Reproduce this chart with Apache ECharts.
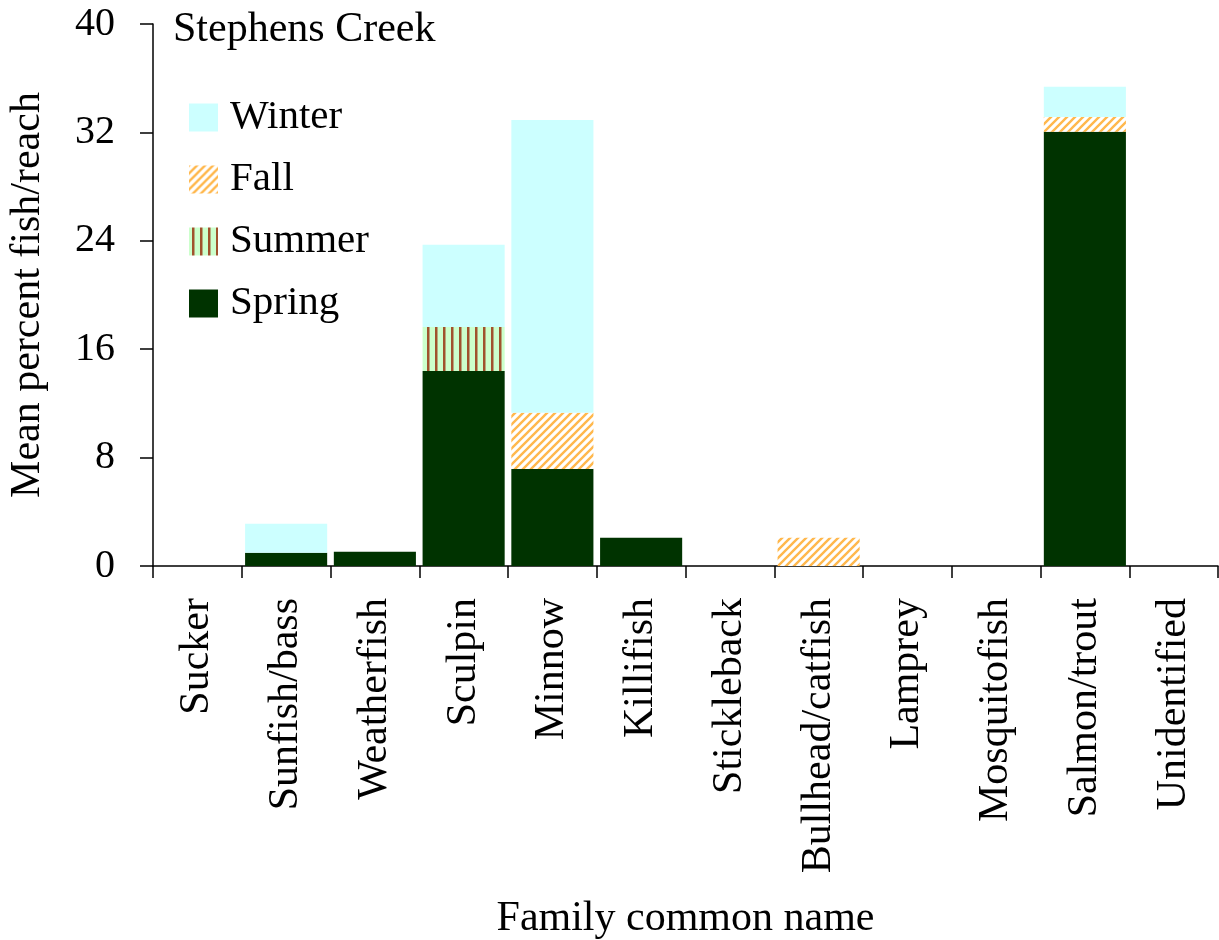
<!DOCTYPE html>
<html>
<head>
<meta charset="utf-8">
<script src="https://cdn.jsdelivr.net/npm/echarts@6/dist/echarts.min.js"></script>
<style>
html,body{margin:0;padding:0;background:#fff;}
#chart{width:1219px;height:940px;}
</style>
</head>
<body>
<div id="chart"></div>
<script>
var categories = ['Sucker','Sunfish/bass','Weatherfish','Sculpin','Minnow','Killifish','Stickleback','Bullhead/catfish','Lamprey','Mosquitofish','Salmon/trout','Unidentified'];
var spring = [0, 0.98, 1.06, 14.4, 7.16, 2.08, 0, 0, 0, 0, 32.05, 0];
var summer = [0, 0, 0, 3.23, 0, 0, 0, 0, 0, 0, 0, 0];
var fall   = [0, 0, 0, 0, 4.15, 0, 0, 2.09, 0, 0, 1.09, 0];
var winter = [0, 2.14, 0, 6.07, 21.6, 0, 0, 0, 0, 0, 2.23, 0];
var yTicks = [0, 8, 16, 24, 32, 40];

var FONT = '"Liberation Serif", "Times New Roman", serif';

function stripePattern(kind) {
  var c = document.createElement('canvas');
  var ctx = c.getContext('2d');
  if (kind === 'summer') {
    c.width = 8; c.height = 8;
    ctx.fillStyle = '#ccffcc';
    ctx.fillRect(0, 0, 8, 8);
    ctx.fillStyle = '#a0522d';
    ctx.fillRect(3, 0, 2.5, 8);
  } else {
    c.width = 8; c.height = 8;
    ctx.fillStyle = '#ffffff';
    ctx.fillRect(0, 0, 8, 8);
    ctx.strokeStyle = '#ffb84d';
    ctx.lineWidth = 2.4;
    ctx.beginPath();
    ctx.moveTo(-2, 10); ctx.lineTo(10, -2);
    ctx.moveTo(-2, 2); ctx.lineTo(2, -2);
    ctx.moveTo(6, 10); ctx.lineTo(10, 6);
    ctx.stroke();
  }
  return {image: c, repeat: 'repeat'};
}

var chart = echarts.init(document.getElementById('chart'), null, {renderer: 'canvas'});

function mkSeries(name, data, color) {
  return {
    name: name,
    type: 'bar',
    stack: 'total',
    data: data,
    barCategoryGap: '7.5%',
    itemStyle: {color: color},
    emphasis: {disabled: true},
    animation: false
  };
}

var option = {
  animation: false,
  title: {
    text: 'Stephens Creek',
    left: 173,
    top: 9,
    padding: 0,
    textStyle: {fontFamily: FONT, fontSize: 42, fontWeight: 'normal', color: '#000'}
  },
  legend: {
    data: ['Winter', 'Fall', 'Summer', 'Spring'],
    orient: 'vertical',
    left: 189,
    top: 97,
    padding: 0,
    itemWidth: 29,
    itemHeight: 28,
    itemGap: 21,
    selectedMode: false,
    icon: 'rect',
    textStyle: {fontFamily: FONT, fontSize: 41, color: '#000', lineHeight: 40, padding: [0, 0, 0, 7]}
  },
  grid: {left: 153, right: 1, top: 24, bottom: 374, containLabel: false, outerBoundsMode: 'none'},
  xAxis: {
    type: 'category',
    data: categories,
    name: 'Family common name',
    nameLocation: 'middle',
    nameGap: 332,
    nameTextStyle: {fontFamily: FONT, fontSize: 42, color: '#000', verticalAlign: 'top'},
    axisLine: {lineStyle: {color: '#000', width: 1.5}},
    axisTick: {show: true, length: 12, lineStyle: {color: '#000', width: 1.5}},
    axisLabel: {rotate: 90, margin: 32, interval: 0, fontFamily: FONT, fontSize: 42, color: '#000'}
  },
  yAxis: {
    type: 'value',
    min: yTicks[0],
    max: yTicks[yTicks.length - 1],
    interval: yTicks[1] - yTicks[0],
    name: 'Mean percent fish/reach',
    nameLocation: 'middle',
    nameGap: 104,
    nameTextStyle: {fontFamily: FONT, fontSize: 42, color: '#000'},
    axisLine: {show: true, lineStyle: {color: '#000', width: 1.5}},
    axisTick: {show: true, length: 13, lineStyle: {color: '#000', width: 1.5}},
    axisLabel: {margin: 38, fontFamily: FONT, fontSize: 40, color: '#000'},
    splitLine: {show: false}
  },
  series: [
    mkSeries('Spring', spring, '#003300'),
    mkSeries('Summer', summer, stripePattern('summer')),
    mkSeries('Fall', fall, stripePattern('fall')),
    mkSeries('Winter', winter, '#ccffff')
  ]
};
chart.setOption(option);
</script>
</body>
</html>
